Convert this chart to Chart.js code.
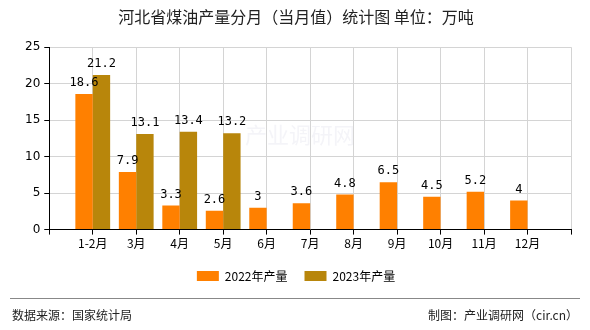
<!DOCTYPE html>
<html>
<head>
<meta charset="utf-8">
<script src="https://cdn.jsdelivr.net/npm/chart.js@4/dist/chart.umd.min.js"></script>
<style>
  body { margin: 0; background: #fff; }
  #wrap { position: relative; width: 590px; height: 330px; }
</style>
</head>
<body>
<div id="wrap"><canvas id="grafica" width="590" height="330"></canvas></div>
<script>
// 月份与两年产量（万吨）
const meses = ['1-2月', '3月', '4月', '5月', '6月', '7月', '8月', '9月', '10月', '11月', '12月'];
const prod2022 = [18.6, 7.9, 3.3, 2.6, 3, 3.6, 4.8, 6.5, 4.5, 5.2, 4];
const prod2023 = [21.2, 13.1, 13.4, 13.2, null, null, null, null, null, null, null];
const yTicks = [0, 5, 10, 15, 20, 25];

// 两端留空位，让首尾类别离边框一个间隔
const etiquetas = [''].concat(meses, ['']);
const rellenar = arr => [null].concat(arr, [null]);

const fuenteTexto = '"Noto Sans CJK SC", "DejaVu Sans", sans-serif';

// 柱顶数值
const valoresPlugin = {
  id: 'valores',
  afterDatasetsDraw(chart) {
    const ctx = chart.ctx;
    ctx.save();
    ctx.font = '12px "DejaVu Sans Mono", monospace';
    ctx.fillStyle = '#000';
    ctx.textAlign = 'center';
    ctx.textBaseline = 'bottom';
    chart.data.datasets.forEach((ds, i) => {
      chart.getDatasetMeta(i).data.forEach((bar, j) => {
        const v = ds.data[j];
        if (v === null || v === undefined) return;
        ctx.fillText(String(v), bar.x, bar.y - 5);
      });
    });
    ctx.restore();
  }
};

// 水印与底部来源栏
const piePlugin = {
  id: 'pie',
  beforeDatasetsDraw(chart) {
    const ctx = chart.ctx;
    ctx.save();
    ctx.font = '22px ' + fuenteTexto;
    ctx.fillStyle = 'rgba(200, 200, 220, 0.2)';
    ctx.textAlign = 'center';
    ctx.textBaseline = 'middle';
    ctx.fillText('产业调研网', 300, 135);
    ctx.restore();
  },
  afterDraw(chart) {
    const ctx = chart.ctx;
    ctx.save();
    ctx.strokeStyle = '#888';
    ctx.lineWidth = 1;
    ctx.beginPath();
    ctx.moveTo(10, 298.5);
    ctx.lineTo(580, 298.5);
    ctx.stroke();
    ctx.font = '12px ' + fuenteTexto;
    ctx.fillStyle = '#222';
    ctx.textBaseline = 'middle';
    ctx.textAlign = 'left';
    ctx.fillText('数据来源：国家统计局', 12, 315);
    ctx.textAlign = 'right';
    ctx.fillText('制图：产业调研网（cir.cn）', 578, 315);
    ctx.restore();
  }
};

new Chart(document.getElementById('grafica').getContext('2d'), {
  type: 'bar',
  data: {
    labels: etiquetas,
    datasets: [
      {
        label: '2022年产量',
        data: rellenar(prod2022),
        backgroundColor: '#FF8000',
        categoryPercentage: 0.8,
        barPercentage: 1.0
      },
      {
        label: '2023年产量',
        data: rellenar(prod2023),
        backgroundColor: '#B8860B',
        categoryPercentage: 0.8,
        barPercentage: 1.0
      }
    ]
  },
  options: {
    responsive: false,
    animation: false,
    layout: { padding: { left: 21, right: 19, top: 0, bottom: 38 } },
    scales: {
      x: {
        offset: false,
        grid: { color: '#d4d4d4', tickColor: '#000', tickLength: 5, offset: false },
        border: { color: '#000' },
        ticks: {
          color: '#000',
          font: { size: 12, family: fuenteTexto },
          maxRotation: 0,
          autoSkip: false,
          padding: 2
        }
      },
      y: {
        min: 0,
        max: 25,
        afterBuildTicks(axis) { axis.ticks = yTicks.map(v => ({ value: v })); },
        grid: { color: '#d4d4d4', tickColor: '#000', tickLength: 5 },
        border: { color: '#000' },
        ticks: {
          color: '#000',
          font: { size: 12, family: '"DejaVu Sans", sans-serif' },
          padding: 4
        }
      }
    },
    plugins: {
      title: {
        display: true,
        text: '河北省煤油产量分月（当月值）统计图 单位：万吨',
        color: '#222',
        font: { size: 16, weight: 'normal', family: fuenteTexto },
        padding: { top: 7, bottom: 21 }
      },
      legend: {
        position: 'bottom',
        labels: {
          boxWidth: 22,
          boxHeight: 10,
          color: '#000',
          font: { size: 12, family: fuenteTexto },
          padding: 17
        }
      },
      tooltip: { enabled: false }
    }
  },
  plugins: [valoresPlugin, piePlugin]
});
</script>
</body>
</html>
